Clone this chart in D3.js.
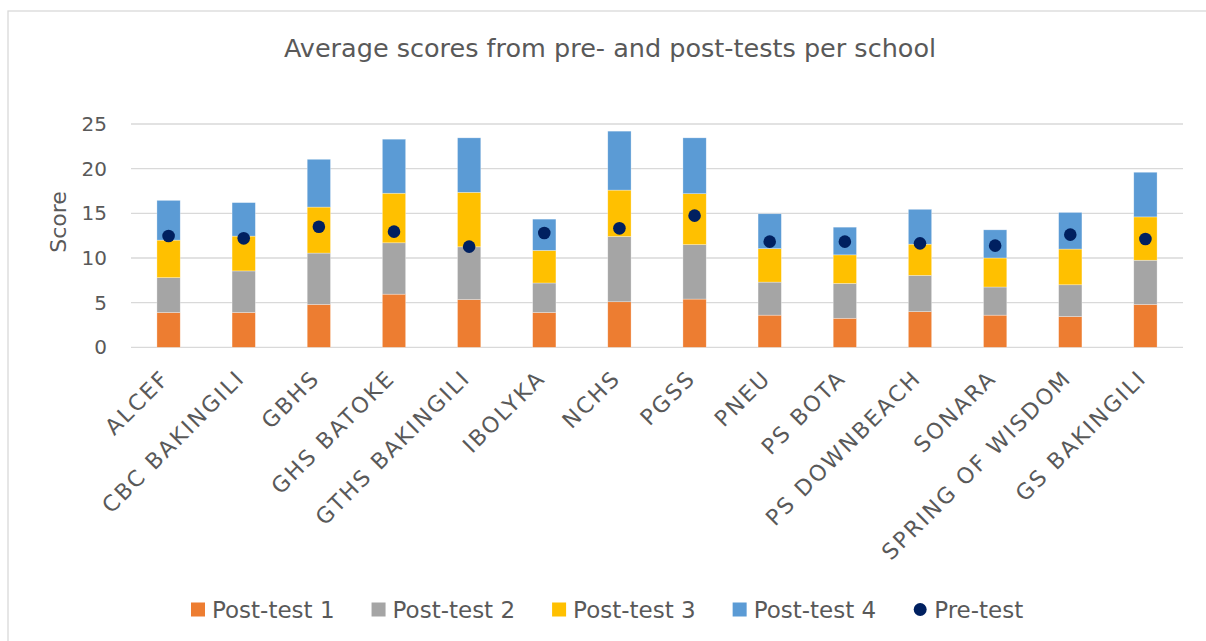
<!DOCTYPE html>
<html>
<head>
<meta charset="utf-8">
<script src="https://cdn.jsdelivr.net/npm/d3@7"></script>
<style>
  body { margin: 0; background: #fff; }
  text { font-family: "DejaVu Sans", sans-serif; fill: #595959; }
</style>
</head>
<body>
<div id="wrapper"></div>
<script>
// schools on the x axis
const schools = ["ALCEF", "CBC BAKINGILI", "GBHS", "GHS BATOKE", "GTHS BAKINGILI", "IBOLYKA",
  "NCHS", "PGSS", "PNEU", "PS BOTA", "PS DOWNBEACH", "SONARA", "SPRING OF WISDOM", "GS BAKINGILI"]
// stacked post-test averages
const post1 = [3.9, 3.9, 4.8, 5.95, 5.35, 3.9, 5.1, 5.4, 3.6, 3.25, 4.0, 3.6, 3.45, 4.8]
const post2 = [3.9, 4.65, 5.75, 5.75, 5.9, 3.3, 7.3, 6.1, 3.7, 3.9, 4.05, 3.15, 3.55, 4.95]
const post3 = [4.2, 3.9, 5.15, 5.55, 6.1, 3.65, 5.2, 5.7, 3.75, 3.2, 3.5, 3.25, 4.0, 4.85]
const post4 = [4.45, 3.75, 5.35, 6.05, 6.1, 3.5, 6.6, 6.25, 3.9, 3.1, 3.9, 3.15, 4.1, 5.0]
// pre-test average, drawn as a dot
const pre = [12.46, 12.2, 13.5, 12.95, 11.27, 12.8, 13.32, 14.74, 11.83, 11.83, 11.64, 11.38, 12.61, 12.13]
const seriesNames = ["Post-test 1", "Post-test 2", "Post-test 3", "Post-test 4"]
const yTicks = [0, 5, 10, 15, 20, 25]

const colors = ["#ED7D31", "#A5A5A5", "#FFC000", "#5B9BD5"]
const dotColor = "#002060"

const width = 1206
const height = 641
const plot = { left: 131, right: 1183, top: 124, bottom: 347.3 }

const svg = d3.select("#wrapper").append("svg")
  .attr("width", width)
  .attr("height", height)

// chart border (right / bottom edges fall outside the picture)
svg.append("rect")
  .attr("x", 8).attr("y", 11)
  .attr("width", 1230).attr("height", 700)
  .attr("fill", "none")
  .attr("stroke", "#d9d9d9")
  .attr("stroke-width", 1.3)

svg.append("text")
  .attr("x", 610).attr("y", 57)
  .attr("text-anchor", "middle")
  .style("font-size", "25.5px")
  .text("Average scores from pre- and post-tests per school")

const x = d3.scaleBand()
  .domain(schools)
  .range([plot.left, plot.right])
  .paddingInner(0.69)
  .paddingOuter(0.345)

const y = d3.scaleLinear()
  .domain([0, 25])
  .range([plot.bottom, plot.top])

// gridlines
svg.append("g")
  .selectAll("line")
  .data(yTicks)
  .join("line")
  .attr("x1", plot.left).attr("x2", plot.right)
  .attr("y1", d => y(d)).attr("y2", d => y(d))
  .attr("stroke", "#d9d9d9")
  .attr("stroke-width", 1.3)

// y tick labels
svg.append("g")
  .selectAll("text")
  .data(yTicks)
  .join("text")
  .attr("x", 107)
  .attr("y", d => y(d))
  .attr("dy", "0.35em")
  .attr("text-anchor", "end")
  .style("font-size", "20px")
  .text(d => d)

svg.append("text")
  .attr("transform", "translate(58, 222) rotate(-90)")
  .attr("text-anchor", "middle")
  .attr("dy", "0.35em")
  .style("font-size", "22px")
  .text("Score")

// stacked bars
const rows = schools.map((s, i) => ({
  school: s, "Post-test 1": post1[i], "Post-test 2": post2[i],
  "Post-test 3": post3[i], "Post-test 4": post4[i]
}))
const stacked = d3.stack().keys(seriesNames)(rows)

svg.append("g")
  .selectAll("g")
  .data(stacked)
  .join("g")
  .attr("fill", (d, i) => colors[i])
  .selectAll("rect")
  .data(d => d)
  .join("rect")
  .attr("x", d => x(d.data.school))
  .attr("width", x.bandwidth())
  .attr("y", d => y(d[1]))
  .attr("height", d => y(d[0]) - y(d[1]))
  .attr("stroke", "#fff")
  .attr("stroke-opacity", 0.5)
  .attr("stroke-width", 0.6)

// pre-test dots
svg.append("g")
  .selectAll("circle")
  .data(pre)
  .join("circle")
  .attr("cx", (d, i) => x(schools[i]) + x.bandwidth() / 2)
  .attr("cy", d => y(d))
  .attr("r", 6.3)
  .attr("fill", dotColor)

// x labels, rotated
svg.append("g")
  .selectAll("text")
  .data(schools)
  .join("text")
  .attr("transform", d => `translate(${x(d) + x.bandwidth() / 2 - 3}, 374) rotate(-45)`)
  .attr("text-anchor", "end")
  .attr("dy", "0.35em")
  .style("font-size", "22px")
  .style("letter-spacing", "2.2px")
  .text(d => d)

// legend
const legendItems = seriesNames.map((n, i) => ({ name: n, color: colors[i], dot: false }))
  .concat([{ name: "Pre-test", color: dotColor, dot: true }])
const legendY = 609.5
let cursor = 191
legendItems.forEach(item => {
  const g = svg.append("g").attr("transform", `translate(${cursor}, ${legendY})`)
  if (item.dot) {
    g.append("circle").attr("cx", 7).attr("cy", 0).attr("r", 6.5).attr("fill", item.color)
  } else {
    g.append("rect").attr("x", 0).attr("y", -7).attr("width", 14).attr("height", 14).attr("fill", item.color)
  }
  const t = g.append("text")
    .attr("x", 21).attr("dy", "0.36em")
    .style("font-size", "23px")
    .text(item.name)
  cursor += 21 + t.node().getComputedTextLength() + 37
})
</script>
</body>
</html>
